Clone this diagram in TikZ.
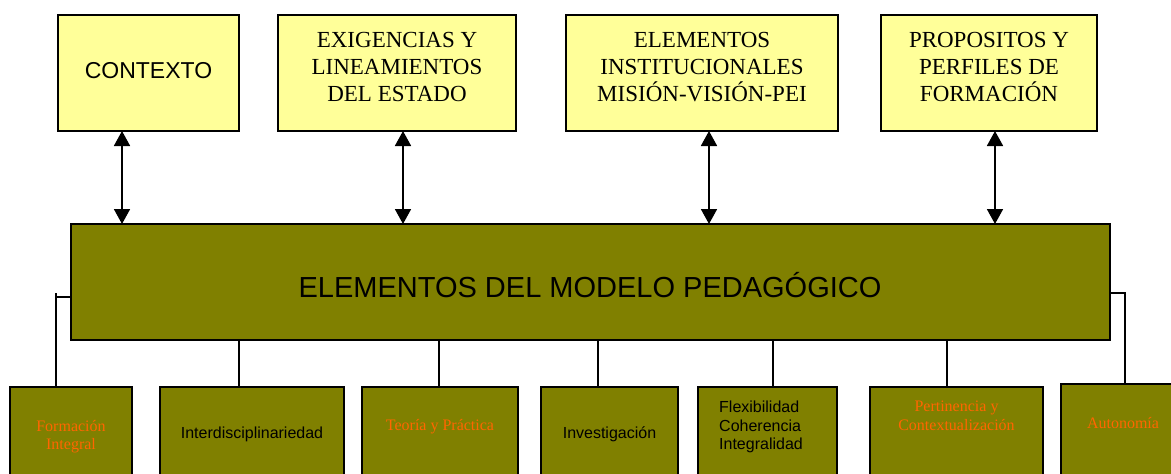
\documentclass[tikz,border=0pt]{standalone}
\usepackage{fontspec}
\setmainfont{Liberation Serif}
\newfontfamily\arialfont{Liberation Sans}
\usetikzlibrary{arrows.meta}
\definecolor{boxyellow}{HTML}{FFFF99}
\definecolor{boxolive}{HTML}{808000}
\definecolor{txtorange}{HTML}{FF6600}
\begin{document}
\begin{tikzpicture}[x=1pt,y=-1pt,
  topbox/.style={draw=black, line width=1.6pt, fill=boxyellow, inner sep=0pt, outer sep=0pt, anchor=north west},
  mainbox/.style={draw=black, line width=1.6pt, fill=boxolive, inner sep=0pt, outer sep=0pt, anchor=north west},
  botbox/.style={draw=black, line width=1.6pt, fill=boxolive, inner sep=0pt, outer sep=0pt, anchor=north west},
  toptext/.style={inner sep=0pt, anchor=north, align=center, font=\fontsize{23}{27}\selectfont},
  serifsmall/.style={inner sep=0pt, anchor=north, align=center, text=txtorange, font=\fontsize{16}{18.5}\selectfont},
  sanssmall/.style={inner sep=0pt, anchor=north, align=center, font=\arialfont\fontsize{16}{18.5}\selectfont},
  biarrow/.style={line width=1.8pt, {Triangle[length=15pt,width=16pt]}-{Triangle[length=15pt,width=16pt]}},
  conn/.style={line width=1.2pt}
]
\useasboundingbox (0,0) rectangle (1171,474);
\clip (0,0) rectangle (1171,474);

% top boxes
\node[topbox, minimum width=181pt, minimum height=116pt] (ctx) at (58,15) {};
\node[topbox, minimum width=238pt, minimum height=116pt] (exi) at (278,15) {};
\node[topbox, minimum width=272pt, minimum height=116pt] (ele) at (566,15) {};
\node[topbox, minimum width=216pt, minimum height=116pt] (pro) at (881,15) {};

\node[inner sep=0pt, anchor=north, font=\arialfont\fontsize{23}{27}\selectfont] (ctxt) at (148.5,62) {CONTEXTO};
\node[toptext] (exit) at (397,32) {EXIGENCIAS Y\\LINEAMIENTOS\\DEL ESTADO};
\node[toptext] (elet) at (702,32) {ELEMENTOS\\INSTITUCIONALES\\MISIÓN-VISIÓN-PEI};
\node[toptext] (prot) at (989,32) {PROPOSITOS Y\\PERFILES DE\\FORMACIÓN};

% main box
\node[mainbox, minimum width=1039pt, minimum height=116pt] (main) at (71,224) {};
\node[inner sep=0pt, anchor=base, font=\arialfont\fontsize{29}{33}\selectfont] (maint) at (590,297) {ELEMENTOS DEL MODELO PEDAGÓGICO};

% arrows
\coordinate (a1) at (122,0);
\coordinate (a2) at (403,0);
\coordinate (a3) at (709,0);
\coordinate (a4) at (995,0);
\draw[biarrow] (a1 |- ctx.south) -- (a1 |- main.north);
\draw[biarrow] (a2 |- exi.south) -- (a2 |- main.north);
\draw[biarrow] (a3 |- ele.south) -- (a3 |- main.north);
\draw[biarrow] (a4 |- pro.south) -- (a4 |- main.north);

% bottom boxes
\node[botbox, minimum width=122pt, minimum height=110pt] (b1) at (10,387) {};
\node[botbox, minimum width=184pt, minimum height=110pt] (b2) at (160,387) {};
\node[botbox, minimum width=156pt, minimum height=110pt] (b3) at (362,387) {};
\node[botbox, minimum width=137pt, minimum height=110pt] (b4) at (541,387) {};
\node[botbox, minimum width=139pt, minimum height=110pt] (b5) at (698,387) {};
\node[botbox, minimum width=173pt, minimum height=110pt] (b6) at (870,387) {};
\node[botbox, minimum width=124pt, minimum height=110pt] (b7) at (1061,384) {};

\node[serifsmall] (b1t) at (71,420) {Formación\\Integral};
\node[sanssmall] (b2t) at (252,427) {Interdisciplinariedad};
\node[serifsmall] (b3t) at (440,419) {Teoría y Práctica};
\node[sanssmall] (b4t) at (609.5,427) {Investigación};
\node[sanssmall, anchor=north west, align=left] (b5t) at (719,401) {Flexibilidad\\Coherencia\\Integralidad};
\node[serifsmall] (b6t) at (956.5,401) {Pertinencia y\\Contextualización};
\node[serifsmall] (b7t) at (1123,417) {Autonomía};

% connectors
\coordinate (c2) at (239,0);
\coordinate (c3) at (439,0);
\coordinate (c4) at (598,0);
\coordinate (c5) at (773,0);
\coordinate (c6) at (947,0);
\draw[conn] (c2 |- main.south) -- (c2 |- b2.north);
\draw[conn] (c3 |- main.south) -- (c3 |- b3.north);
\draw[conn] (c4 |- main.south) -- (c4 |- b4.north);
\draw[conn] (c5 |- main.south) -- (c5 |- b5.north);
\draw[conn] (c6 |- main.south) -- (c6 |- b6.north);

\coordinate (lh) at (56,297);
\coordinate (lt) at (56,293);
\draw[conn] (main.west |- lh) -- (lh);
\draw[conn] (lt) -- (lt |- b1.north);
\coordinate (rh) at (1125,293);
\draw[conn] (main.east |- rh) -- (rh) -- (rh |- b7.north);
\end{tikzpicture}
\end{document}
